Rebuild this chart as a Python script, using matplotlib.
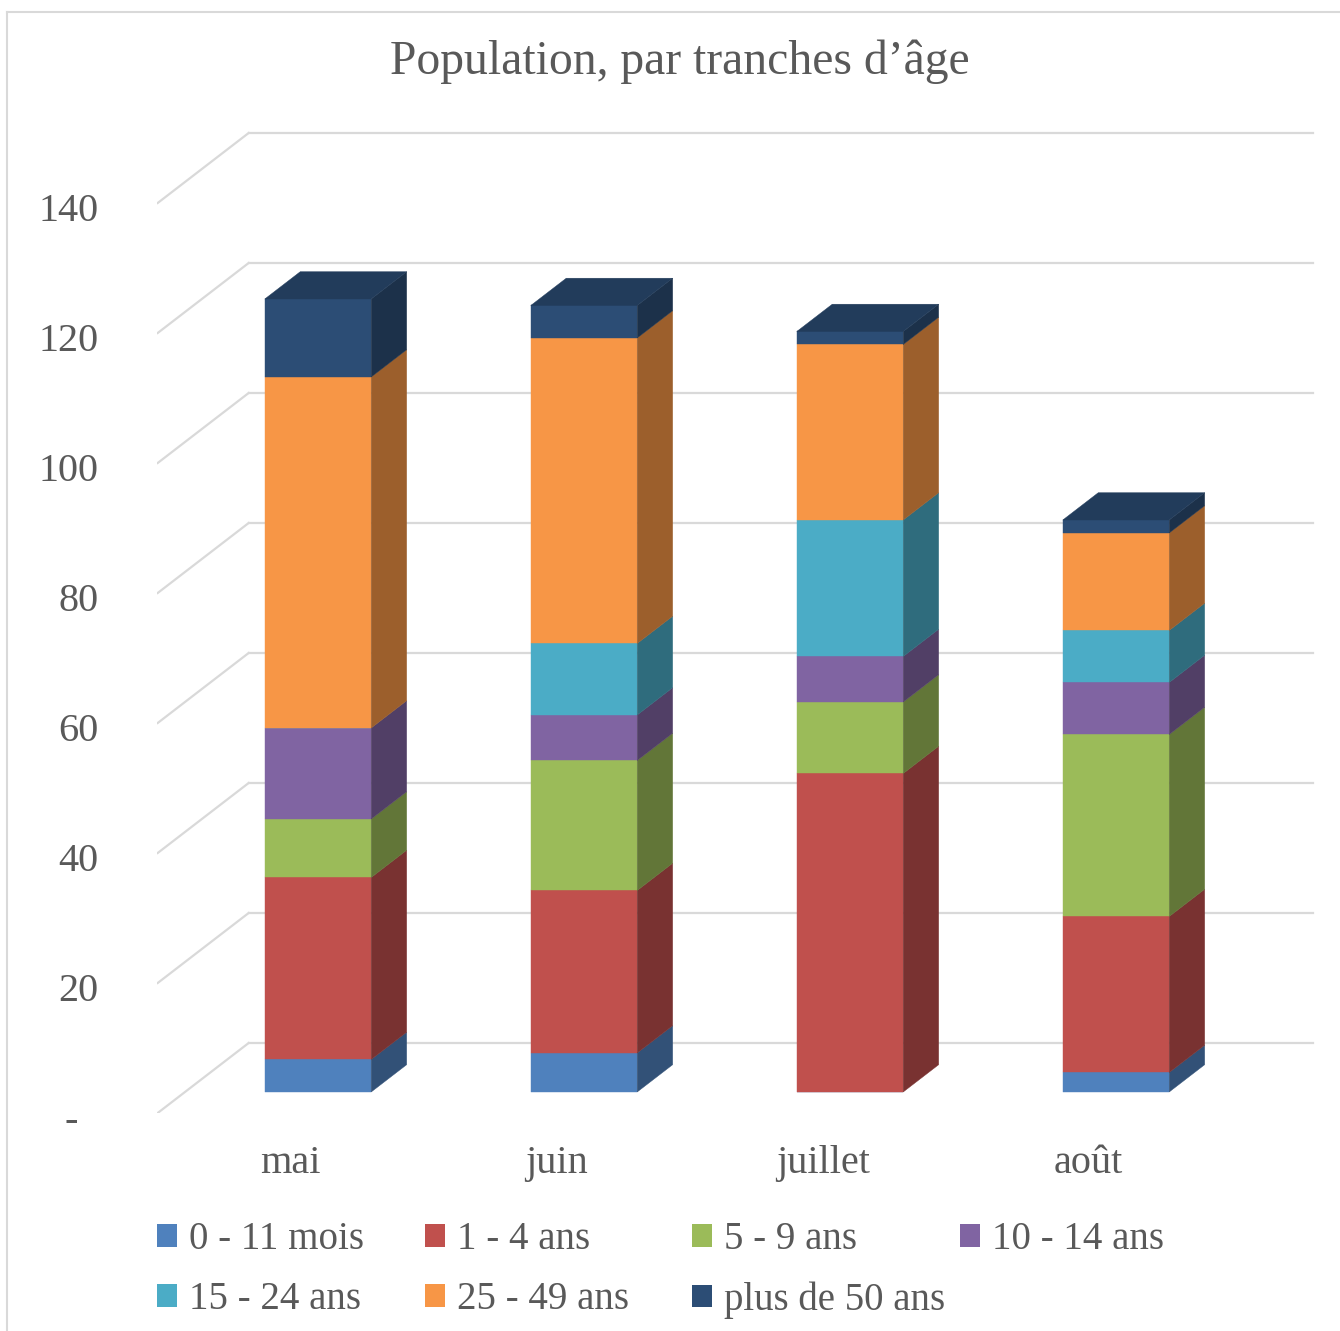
import matplotlib.pyplot as plt
import numpy as np
from matplotlib.patches import Polygon, Patch
from matplotlib.lines import Line2D
from matplotlib.colors import to_rgb
from matplotlib.transforms import ScaledTranslation

plt.rcParams['font.family'] = ['Liberation Serif', 'DejaVu Serif']

months = ['mai', 'juin', 'juillet', 'août']
groups = ['0 - 11 mois', '1 - 4 ans', '5 - 9 ans', '10 - 14 ans',
          '15 - 24 ans', '25 - 49 ans', 'plus de 50 ans']
colors = ['#4F81BD', '#C0504D', '#9BBB59', '#8064A2',
          '#4BACC6', '#F79646', '#2C4D75']

m_0_11 = [5, 6, 0, 3]
a_1_4 = [28, 25, 49, 24]
a_5_9 = [9, 20, 11, 28]
a_10_14 = [14, 7, 7, 8]
a_15_24 = [0, 11, 21, 8]
a_25_49 = [54, 47, 27, 15]
a_50 = [12, 5, 2, 2]
series = [m_0_11, a_1_4, a_5_9, a_10_14, a_15_24, a_25_49, a_50]

yticks = [0, 20, 40, 60, 80, 100, 120, 140]
ylabels = ['-  '] + [str(t) for t in yticks[1:]]

grey = '#595959'
gridc = '#D9D9D9'

# oblique depth: full wall depth in data units
DX, DY = 0.342, 10.77
z0, bd = 0.30, 0.39      # bar front depth and bar depth (fraction of wall)
width = 0.40

W, H = 1340, 1331
fig = plt.figure(figsize=(W / 100, H / 100), dpi=100)
ax = fig.add_axes([157 / W, (H - 1113) / H, (W - 157) / W, 1113 / H])
ax.set_xlim(-0.5026, 3.9447)
ax.set_ylim(0, 171.23)
for s in ax.spines.values():
    s.set_visible(False)

# walls / gridlines
for t in yticks:
    ax.plot([-0.5 + DX, 3.5 + DX], [t + DY, t + DY], color=gridc, lw=1.6, zorder=0)
    ax.plot([-0.5, -0.5 + DX], [t, t + DY], color=gridc, lw=1.6, zorder=0)

x = np.arange(len(months))
vals = np.array(series, dtype=float)
cum = np.vstack([np.zeros(len(months)), np.cumsum(vals, axis=0)])

def shade(c, f):
    r, g, b = to_rgb(c)
    return (r * f, g * f, b * f)

fx = z0 * DX
fy = z0 * DY
for i, (v, c) in enumerate(zip(vals, colors)):
    bot = cum[i]
    ax.bar(x + fx, v, width=width, bottom=bot + fy, color=c,
           edgecolor=c, linewidth=0.3, zorder=3)
    for j in range(len(months)):
        if v[j] <= 0:
            continue
        xr = x[j] + width / 2 + fx
        b = bot[j] + fy
        t = b + v[j]
        side = [(xr, b), (xr + bd * DX, b + bd * DY),
                (xr + bd * DX, t + bd * DY), (xr, t)]
        sc = shade(c, 0.63)
        ax.add_patch(Polygon(side, closed=True, facecolor=sc, edgecolor=sc,
                             lw=0.3, zorder=3))

# top faces
for j in range(len(months)):
    top_i = max(i for i in range(len(series)) if vals[i][j] > 0)
    T = cum[-1][j] + fy
    xl = x[j] - width / 2 + fx
    xr = x[j] + width / 2 + fx
    tc = shade(colors[top_i], 0.78)
    face = [(xl, T), (xr, T), (xr + bd * DX, T + bd * DY), (xl + bd * DX, T + bd * DY)]
    ax.add_patch(Polygon(face, closed=True, facecolor=tc, edgecolor=tc,
                         lw=0.3, zorder=4))

ax.set_yticks(yticks)
ax.set_yticklabels(ylabels)
ax.set_xticks(x)
ax.set_xticklabels(months)
ax.tick_params(axis='y', length=0, pad=42, labelsize=29, labelcolor=grey)
ax.tick_params(axis='x', length=0, pad=23, labelsize=29, labelcolor=grey)
down = ScaledTranslation(0, -4 / 100, fig.dpi_scale_trans)
for lab in ax.get_yticklabels():
    lab.set_transform(lab.get_transform() + down)

fig.text(680 / W, 1 - 62 / H, 'Population, par tranches d’âge', ha='center',
         va='center', fontsize=34.3, color=grey)

# legend, one small legend per column
col_x = [157, 425, 692, 960]
for c in range(4):
    idx = [c, c + 4] if c + 4 < len(groups) else [c]
    handles = [Patch(facecolor=colors[k], edgecolor='none') for k in idx]
    labels = [groups[k] for k in idx]
    leg = fig.legend(handles, labels, loc='upper left',
                     bbox_to_anchor=(col_x[c] / W, 1 - 1221 / H),
                     frameon=False, fontsize=28, handlelength=0.52,
                     handleheight=0.52, handletextpad=0.3, labelspacing=0.6,
                     borderpad=0, borderaxespad=0)
    for txt in leg.get_texts():
        txt.set_color(grey)

# chart border
fig.add_artist(Line2D([7 / W, 7 / W], [0, 1 - 12 / H], color=gridc, lw=1.5))
fig.add_artist(Line2D([7 / W, 1], [1 - 12 / H, 1 - 12 / H], color=gridc, lw=1.5))

fig.savefig('out.png', dpi=100)
